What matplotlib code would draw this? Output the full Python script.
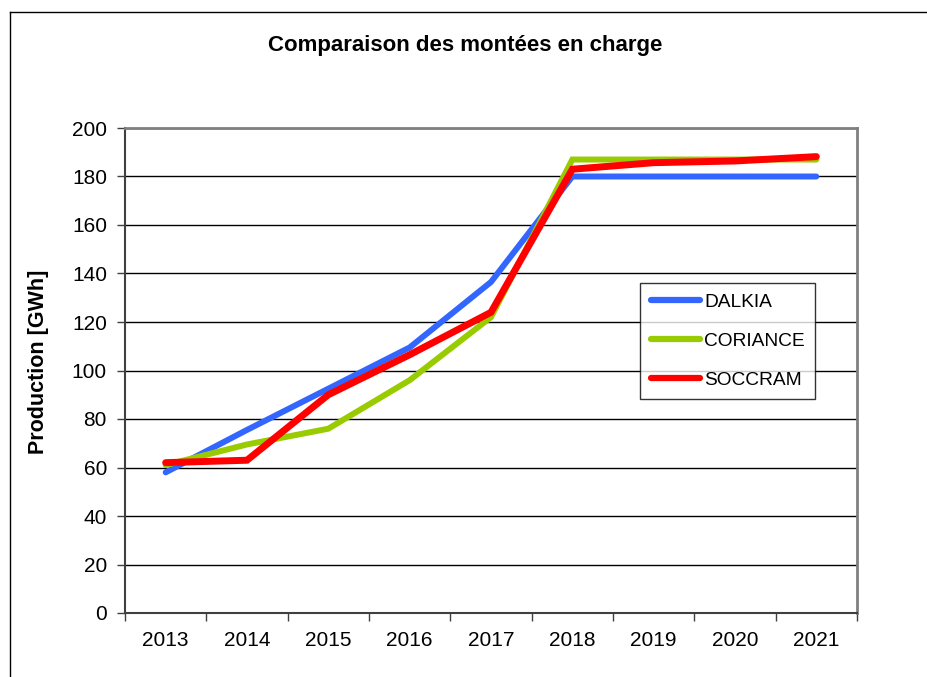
import matplotlib
matplotlib.use("Agg")
import matplotlib.pyplot as plt
from matplotlib.lines import Line2D

plt.rcParams['font.family'] = ['Liberation Sans', 'DejaVu Sans']

years = ["2013", "2014", "2015", "2016", "2017", "2018", "2019", "2020", "2021"]
dalkia = [58, 75.5, 92.5, 109.5, 136.5, 180, 180, 180, 180]
coriance = [61, 69.5, 76, 96, 122, 187, 187, 187, 187]
soccram = [62, 63, 90, 106.5, 124, 183, 185.7, 186.4, 188.2]

fig = plt.figure(figsize=(9.27, 6.77), dpi=100)
W, H = 927, 677
ax = fig.add_axes([125 / W, 1 - 613 / H, (857 - 125) / W, (613 - 128) / H])

x = list(range(len(years)))
ax.plot(x, dalkia, color='#3366FF', lw=4.3, solid_capstyle='round', solid_joinstyle='miter', label='DALKIA', zorder=3)
ax.plot(x, coriance, color='#99CC00', lw=4.3, solid_capstyle='round', solid_joinstyle='miter', label='CORIANCE', zorder=4)
ax.plot(x, soccram, color='#FF0000', lw=5.0, solid_capstyle='round', solid_joinstyle='miter', label='SOCCRAM', zorder=5)

ax.set_xlim(-0.5, len(years) - 0.5)
ax.set_ylim(0, 200)
ax.set_yticks(range(0, 201, 20))
ax.yaxis.grid(True, color='black', lw=1.0)
ax.set_axisbelow(True)

ax.set_xticks([i - 0.5 for i in range(len(years) + 1)])
ax.set_xticklabels([])
ax.set_xticks(x, minor=True)
ax.set_xticklabels(years, minor=True)
ax.tick_params(axis='x', which='major', direction='out', length=6, width=1, color='#404040')
ax.tick_params(axis='x', which='minor', length=0, pad=13, labelsize=15)
ax.tick_params(axis='y', direction='out', length=6, width=1, color='#404040', labelsize=15, pad=7)

for s in ['left', 'bottom']:
    ax.spines[s].set_color('#404040')
    ax.spines[s].set_linewidth(1.5)
for s in ['top', 'right']:
    ax.spines[s].set_color('#808080')
    ax.spines[s].set_linewidth(2)

ax.set_ylabel('Production [GWh]', fontsize=15.5, fontweight='bold')
ax.yaxis.set_label_coords((49 - 125) / 732, (613 - 362) / 485)

fig.text(465 / W, 1 - 45 / H, 'Comparaison des montées en charge',
         ha='center', va='center', fontsize=16, fontweight='bold')

leg = ax.legend(loc='upper left', bbox_to_anchor=((640 - 125) / 732, (613 - 283) / 485),
                borderaxespad=0, frameon=True, fancybox=False, edgecolor='black',
                fontsize=13.8, handlelength=2.6, handletextpad=0.2, labelspacing=1.12,
                borderpad=0.55)
leg.get_frame().set_linewidth(1.0)
for h in leg.get_lines():
    h.set_linewidth(4.5)
    h.set_solid_capstyle('round')

fig.add_artist(Line2D([10 / W, 1.0], [1 - 12 / H, 1 - 12 / H], color='black', lw=1.0, transform=fig.transFigure))
fig.add_artist(Line2D([10 / W, 10 / W], [0, 1 - 12 / H], color='black', lw=1.0, transform=fig.transFigure))

fig.savefig('out.png', dpi=100)
